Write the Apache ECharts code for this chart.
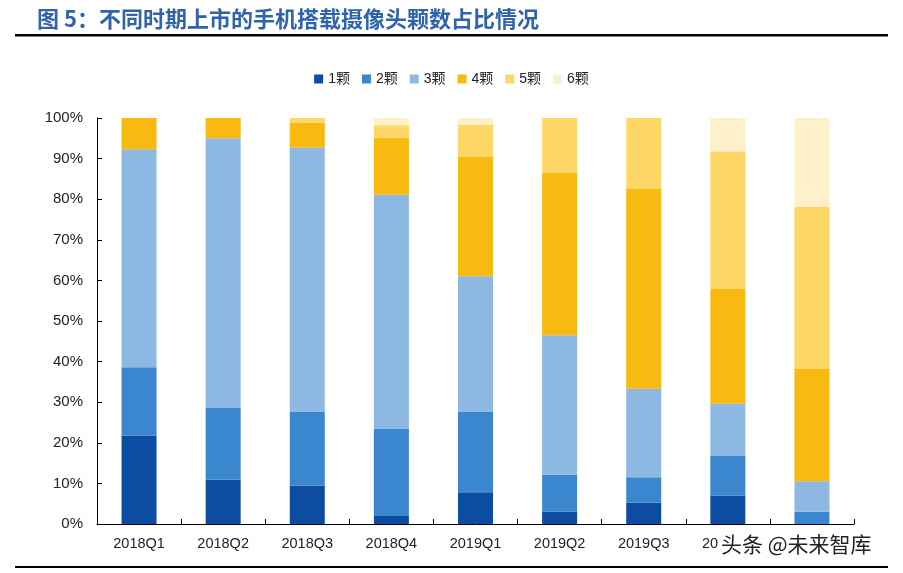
<!DOCTYPE html>
<html><head><meta charset="utf-8">
<script src="https://cdn.jsdelivr.net/npm/echarts@6/dist/echarts.min.js"></script>
<style>html,body{margin:0;padding:0;background:#fff}#c{width:903px;height:573px}</style>
</head><body><div id="c"></div>
<script>
var categories = ['2018Q1','2018Q2','2018Q3','2018Q4','2019Q1','2019Q2','2019Q3','2019Q4','2020Q1'];
var seriesNames = ['1颗','2颗','3颗','4颗','5颗','6颗'];
var cam1 = [21.8, 10.9, 9.4, 2.0, 7.8, 3.1, 5.3, 7.0, 0];
var cam2 = [16.8, 17.8, 18.3, 21.5, 19.9, 9.0, 6.2, 9.9, 3.0];
var cam3 = [53.7, 66.3, 65.0, 57.6, 33.3, 34.4, 21.8, 12.7, 7.5];
var cam4 = [7.7, 5.0, 6.1, 14.1, 29.4, 40.1, 49.2, 28.4, 27.7];
var cam5 = [0, 0, 1.2, 3.0, 7.9, 13.4, 17.5, 33.8, 40.0];
var cam6 = [0, 0, 0, 1.8, 1.7, 0, 0, 8.2, 21.8];
var yTicks = [0,10,20,30,40,50,60,70,80,90,100];
var colors = ['#0C4DA2','#3A87CF','#8DB8E2','#F8B911','#FFD766','#FFF0CC'];
var allData = [cam1, cam2, cam3, cam4, cam5, cam6];

var chart = echarts.init(document.getElementById('c'));
chart.setOption({
  animation: false,
  color: colors,
  title: {
    text: '图 5：不同时期上市的手机搭载摄像头颗数占比情况',
    left: 32, top: 3,
    textStyle: {fontFamily: 'Noto Sans CJK SC', fontSize: 22, fontWeight: 'bold', color: '#2F64AC'}
  },
  legend: {
    top: 67, left: 'center', itemWidth: 9, itemHeight: 9, itemGap: 12,
    icon: 'rect',
    textStyle: {fontFamily: 'Liberation Sans, Noto Sans CJK SC', fontSize: 14, color: '#222'},
    data: seriesNames
  },
  grid: {left: 97, right: 49, top: 118, bottom: 49},
  xAxis: {
    type: 'category', data: categories,
    axisLine: {lineStyle: {color: '#000', width: 1}},
    axisTick: {show: true, inside: true, length: 5, lineStyle: {color: '#000'}},
    axisLabel: {fontFamily: 'Liberation Sans', fontSize: 14.5, color: '#222', margin: 12}
  },
  yAxis: {
    type: 'value', min: 0, max: 100, interval: 10,
    axisLine: {show: true, lineStyle: {color: '#000', width: 1}},
    axisTick: {show: true, inside: true, length: 5, lineStyle: {color: '#000'}},
    splitLine: {show: false},
    axisLabel: {fontFamily: 'Liberation Sans', fontSize: 15, color: '#222', margin: 14,
      formatter: function(v){ return yTicks.indexOf(v) >= 0 ? v + '%' : ''; }}
  },
  series: seriesNames.map(function(n, i){
    return {name: n, type: 'bar', stack: 'total', barWidth: 35, data: allData[i]};
  }),
  graphic: [
    {type: 'rect', left: 15, top: 34, shape: {width: 873, height: 2.5}, style: {fill: '#000'}},
    {type: 'rect', left: 15, top: 566, shape: {width: 873, height: 2}, style: {fill: '#000'}},
    {type: 'text', left: 719, top: 532, z: 1000, zlevel: 1,
      style: {text: '头条 @未来智库', fill: '#222', font: '21px "Noto Sans CJK SC"',
        backgroundColor: '#fff', padding: [2, 6, 2, 2]}}
  ]
});
</script></body></html>
